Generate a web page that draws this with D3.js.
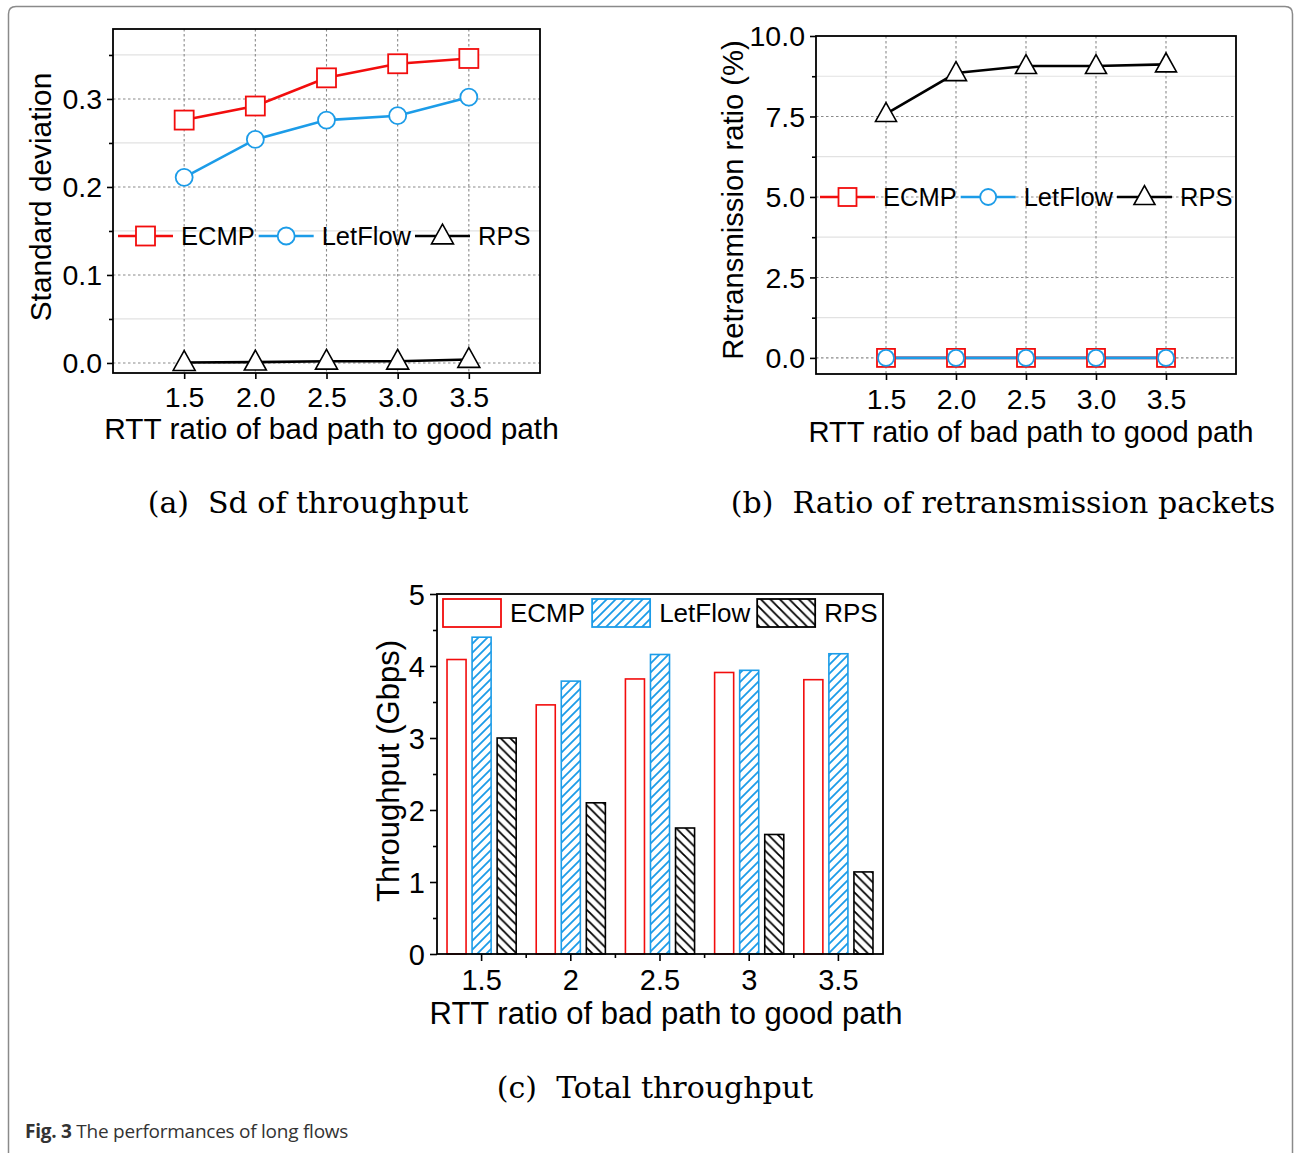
<!DOCTYPE html>
<html>
<head>
<meta charset="utf-8">
<script src="https://cdn.jsdelivr.net/npm/d3@7"></script>
<style>
  html, body { margin: 0; padding: 0; background: #fff; }
  svg { display: block; }
  text { font-family: "Liberation Sans", Arial, sans-serif; fill: #000; }
  text.cap { font-family: "DejaVu Serif", "Liberation Serif", serif; }
  text.figcap { font-family: "Open Sans", "Noto Sans", sans-serif; fill: #333; }
</style>
</head>
<body>
<svg id="fig" width="1294" height="1153"></svg>
<script>
// RTT ratio of the bad path to the good path (x values of panels a, b)
const ratios = [1.5, 2.0, 2.5, 3.0, 3.5];
const ratioTicks = [1.5, 2.0, 2.5, 3.0, 3.5];

// (a) standard deviation of throughput
const sdECMP    = [0.276, 0.292, 0.324, 0.340, 0.346];
const sdLetFlow = [0.211, 0.254, 0.276, 0.281, 0.302];
const sdRPS     = [0.0005, 0.001, 0.002, 0.002, 0.004];
const sdTicks   = [0.0, 0.1, 0.2, 0.3];
const sdMinor   = [0.05, 0.15, 0.25, 0.35];

// (b) ratio of retransmission packets (%)
const retxECMP    = [0, 0, 0, 0, 0];
const retxLetFlow = [0, 0, 0, 0, 0];
const retxRPS     = [7.58, 8.85, 9.07, 9.07, 9.12];
const retxTicks   = [0.0, 2.5, 5.0, 7.5, 10.0];
const retxMinor   = [1.25, 3.75, 6.25, 8.75];

// (c) total throughput (Gbps)
const tputCategories = ["1.5", "2", "2.5", "3", "3.5"];
const tputECMP    = [4.09, 3.46, 3.82, 3.91, 3.81];
const tputLetFlow = [4.40, 3.79, 4.16, 3.94, 4.17];
const tputRPS     = [3.00, 2.10, 1.75, 1.66, 1.14];
const tputTicks   = [0, 1, 2, 3, 4, 5];
const tputMinor   = [0.5, 1.5, 2.5, 3.5, 4.5];

const seriesNames = ["ECMP", "LetFlow", "RPS"];

const RED = "#f20d0d", BLUE = "#1c9ce8", BLACK = "#000";

const svg = d3.select("#fig");

// hatch fills for the bar panel
const defs = svg.append("defs");
defs.append("pattern").attr("id", "hatchBlue").attr("patternUnits", "userSpaceOnUse")
  .attr("width", 9).attr("height", 9)
  .call(p => {
    p.append("rect").attr("width", 9).attr("height", 9).attr("fill", "#fff");
    p.append("path").attr("d", "M-2,2 L2,-2 M0,9 L9,0 M7,11 L11,7")
      .attr("stroke", BLUE).attr("stroke-width", 1.8);
  });
defs.append("pattern").attr("id", "hatchBlack").attr("patternUnits", "userSpaceOnUse")
  .attr("width", 9.5).attr("height", 9.5)
  .call(p => {
    p.append("rect").attr("width", 9.5).attr("height", 9.5).attr("fill", "#fff");
    p.append("path").attr("d", "M-2,7.5 L2,11.5 M0,0 L9.5,9.5 M7.5,-2 L11.5,2")
      .attr("stroke", BLACK).attr("stroke-width", 1.8);
  });

// outer figure frame
svg.append("path")
  .attr("d", "M8.5,1160 L8.5,14 Q8.5,6.5 16,6.5 L1285,6.5 Q1292.5,6.5 1292.5,14 L1292.5,1160")
  .attr("fill", "none").attr("stroke", "#8a8a8a").attr("stroke-width", 1.5);

// marker shapes
function drawMarker(g, shape, x, y, color, size) {
  if (shape === "square") {
    g.append("rect").attr("x", x - size / 2).attr("y", y - size / 2)
      .attr("width", size).attr("height", size)
      .attr("fill", "#fff").attr("stroke", color).attr("stroke-width", 1.8);
  } else if (shape === "circle") {
    g.append("circle").attr("cx", x).attr("cy", y).attr("r", size / 2)
      .attr("fill", "#fff").attr("stroke", color).attr("stroke-width", 1.8);
  } else {
    const h = size * 0.9, w = size;
    g.append("path")
      .attr("d", `M${x},${y - h * 0.6} L${x + w / 2},${y + h * 0.4} L${x - w / 2},${y + h * 0.4} Z`)
      .attr("fill", "#fff").attr("stroke", color).attr("stroke-width", 1.6);
  }
}

// line-chart panel
function linePanel(opt) {
  const { box, xDomain, yDomain, yTicks, yMinor, yFormat, series, yTitle, yTitleX,
          xLabelY, xTitleY, legendY, legendX, mk, tickFont, titleFont } = opt;
  const g = svg.append("g");
  const x = d3.scaleLinear().domain(xDomain).range([box.l, box.r]);
  const y = d3.scaleLinear().domain(yDomain).range([box.b, box.t]);

  // minor grid (solid light) and major grid (dotted)
  g.selectAll(".gmin").data(yMinor).join("line")
    .attr("x1", box.l).attr("x2", box.r).attr("y1", d => y(d)).attr("y2", d => y(d))
    .attr("stroke", "#e2e2e2").attr("stroke-width", 1.2);
  g.selectAll(".gmaj").data(yTicks.filter(d => y(d) > box.t + 1)).join("line")
    .attr("x1", box.l).attr("x2", box.r).attr("y1", d => y(d)).attr("y2", d => y(d))
    .attr("stroke", "#8a8a8a").attr("stroke-width", 1.1).attr("stroke-dasharray", "2.5,2.5");
  g.selectAll(".gx").data(ratioTicks).join("line")
    .attr("x1", d => x(d)).attr("x2", d => x(d)).attr("y1", box.t).attr("y2", box.b)
    .attr("stroke", "#8a8a8a").attr("stroke-width", 1.1).attr("stroke-dasharray", "2.5,2.5");

  // axes (outward ticks)
  const yAxis = d3.axisLeft(y).tickValues(yTicks).tickFormat(yFormat).tickSize(6).tickPadding(5);
  const ya = g.append("g").attr("transform", `translate(${box.l},0)`).call(yAxis);
  const yMinorAxis = d3.axisLeft(y).tickValues(yMinor).tickFormat("").tickSize(4);
  g.append("g").attr("transform", `translate(${box.l},0)`).call(yMinorAxis)
    .call(a => a.select(".domain").remove());
  const xAxis = d3.axisBottom(x).tickValues(ratioTicks).tickFormat(d3.format(".1f")).tickSize(6).tickPadding(4);
  const xa = g.append("g").attr("transform", `translate(0,${box.b})`).call(xAxis);
  [ya, xa].forEach(a => {
    a.select(".domain").remove();
    a.selectAll("text").attr("font-size", tickFont).attr("fill", "#000");
  });
  g.selectAll(".tick line").attr("stroke", "#000").attr("stroke-width", 1.6);
  xa.selectAll("text").attr("dy", null).attr("dominant-baseline", "central")
    .attr("y", xLabelY - box.b);
  ya.selectAll("text").attr("dy", "0.35em");

  // frame
  g.append("rect").attr("x", box.l).attr("y", box.t)
    .attr("width", box.r - box.l).attr("height", box.b - box.t)
    .attr("fill", "none").attr("stroke", "#000").attr("stroke-width", 1.8);

  // series lines then markers
  series.forEach(s => {
    const pts = ratios.map((r, i) => [x(r), y(s.values[i])]);
    g.append("path").attr("d", d3.line()(pts))
      .attr("fill", "none").attr("stroke", s.color).attr("stroke-width", 2.6);
  });
  series.forEach(s => {
    ratios.forEach((r, i) => drawMarker(g, s.shape, x(r), y(s.values[i]), s.color, mk[s.shape]));
  });

  // legend
  let lx = legendX;
  series.forEach(s => {
    g.append("line").attr("x1", lx).attr("x2", lx + 55).attr("y1", legendY).attr("y2", legendY)
      .attr("stroke", s.color).attr("stroke-width", 2.6);
    drawMarker(g, s.shape, lx + 27.5, legendY, s.color, mk[s.shape]);
    const t = g.append("text").attr("x", lx + 63).attr("y", legendY)
      .attr("dominant-baseline", "central").attr("font-size", 25.5).text(s.name);
    lx = lx + 63 + t.node().getComputedTextLength() + 4;
  });

  // axis titles
  g.append("text").attr("x", (box.l + box.r) / 2 + opt.xTitleShift).attr("y", xTitleY)
    .attr("text-anchor", "middle").attr("dominant-baseline", "central")
    .attr("font-size", titleFont).text("RTT ratio of bad path to good path");
  g.append("text").attr("transform", `translate(${yTitleX},${opt.yTitleCY}) rotate(-90)`)
    .attr("text-anchor", "middle").attr("dominant-baseline", "central")
    .attr("font-size", titleFont).text(yTitle);
}

// (a) Sd of throughput
linePanel({
  box: { l: 113, r: 540, t: 29, b: 373 },
  xDomain: [1, 4], yDomain: [-0.0114, 0.3795],
  yTicks: sdTicks, yMinor: sdMinor, yFormat: d3.format(".1f"),
  series: [
    { name: seriesNames[0], values: sdECMP, color: RED, shape: "square" },
    { name: seriesNames[1], values: sdLetFlow, color: BLUE, shape: "circle" },
    { name: seriesNames[2], values: sdRPS, color: BLACK, shape: "triangle" }
  ],
  mk: { square: 19, circle: 17, triangle: 22 },
  yTitle: "Standard deviation", yTitleX: 40, yTitleCY: 197,
  xLabelY: 397, xTitleY: 428, xTitleShift: 5,
  legendY: 236, legendX: 118, tickFont: 28.5, titleFont: 29.8
});

// (b) Ratio of retransmission packets
linePanel({
  box: { l: 816, r: 1236, t: 36, b: 374 },
  xDomain: [1, 4], yDomain: [-0.5, 10],
  yTicks: retxTicks, yMinor: retxMinor, yFormat: d3.format(".1f"),
  series: [
    { name: seriesNames[0], values: retxECMP, color: RED, shape: "square" },
    { name: seriesNames[1], values: retxLetFlow, color: BLUE, shape: "circle" },
    { name: seriesNames[2], values: retxRPS, color: BLACK, shape: "triangle" }
  ],
  mk: { square: 18, circle: 16, triangle: 21 },
  yTitle: "Retransmission ratio (%)", yTitleX: 733, yTitleCY: 200,
  xLabelY: 399, xTitleY: 432, xTitleShift: 5,
  legendY: 197, legendX: 820, tickFont: 28.5, titleFont: 29.2
});

// (c) Total throughput, grouped bars
(function () {
  const box = { l: 437, r: 883, t: 594, b: 954 };
  const g = svg.append("g");
  const x = d3.scaleBand().domain(tputCategories).range([box.l, box.r]).paddingInner(0).paddingOuter(0);
  const inner = d3.scaleBand().domain(seriesNames).range([0, x.bandwidth()]).paddingInner(0.24).paddingOuter(0.4);
  const y = d3.scaleLinear().domain([0, 5]).range([box.b, box.t]);
  const fills = { ECMP: "#fff", LetFlow: "url(#hatchBlue)", RPS: "url(#hatchBlack)" };
  const strokes = { ECMP: RED, LetFlow: BLUE, RPS: BLACK };
  const vals = { ECMP: tputECMP, LetFlow: tputLetFlow, RPS: tputRPS };

  seriesNames.forEach(name => {
    g.selectAll(".b" + name).data(tputCategories).join("rect")
      .attr("x", c => x(c) + inner(name))
      .attr("y", (c, i) => y(vals[name][i]))
      .attr("width", inner.bandwidth())
      .attr("height", (c, i) => y(0) - y(vals[name][i]))
      .attr("fill", fills[name]).attr("stroke", strokes[name]).attr("stroke-width", 1.6);
  });

  const ya = g.append("g").attr("transform", `translate(${box.l},0)`)
    .call(d3.axisLeft(y).tickValues(tputTicks).tickFormat(d3.format("d")).tickSize(7).tickPadding(5));
  g.append("g").attr("transform", `translate(${box.l},0)`)
    .call(d3.axisLeft(y).tickValues(tputMinor).tickFormat("").tickSize(4))
    .call(a => a.select(".domain").remove());
  const xa = g.append("g").attr("transform", `translate(0,${box.b})`)
    .call(d3.axisBottom(x).tickSize(7).tickPadding(4));
  // boundary ticks between groups
  const edges = tputCategories.slice(1).map(c => x(c));
  g.selectAll(".edge").data(edges).join("line")
    .attr("x1", d => d).attr("x2", d => d).attr("y1", box.b).attr("y2", box.b + 4)
    .attr("stroke", "#000").attr("stroke-width", 1.6);
  [ya, xa].forEach(a => {
    a.select(".domain").remove();
    a.selectAll("text").attr("font-size", 29).attr("fill", "#000");
  });
  g.selectAll(".tick line").attr("stroke", "#000").attr("stroke-width", 1.6);
  xa.selectAll("text").attr("dy", null).attr("dominant-baseline", "central").attr("y", 980 - box.b);
  ya.selectAll("text").attr("dy", "0.35em");

  g.append("rect").attr("x", box.l).attr("y", box.t)
    .attr("width", box.r - box.l).attr("height", box.b - box.t)
    .attr("fill", "none").attr("stroke", "#000").attr("stroke-width", 1.8);

  // legend boxes
  let lx = 443;
  seriesNames.forEach(name => {
    g.append("rect").attr("x", lx).attr("y", 599).attr("width", 58).attr("height", 28)
      .attr("fill", fills[name]).attr("stroke", strokes[name]).attr("stroke-width", 1.8);
    const t = g.append("text").attr("x", lx + 67).attr("y", 613)
      .attr("dominant-baseline", "central").attr("font-size", 26).text(name);
    lx = lx + 67 + t.node().getComputedTextLength() + 7;
  });

  g.append("text").attr("x", 666).attr("y", 1013)
    .attr("text-anchor", "middle").attr("dominant-baseline", "central")
    .attr("font-size", 31).text("RTT ratio of bad path to good path");
  g.append("text").attr("transform", "translate(388,771) rotate(-90)")
    .attr("text-anchor", "middle").attr("dominant-baseline", "central")
    .attr("font-size", 31).text("Throughput (Gbps)");
})();

// sub-figure captions
[["(a)  Sd of throughput", 308, 502],
 ["(b)  Ratio of retransmission packets", 1003, 502],
 ["(c)  Total throughput", 655, 1087]].forEach(([t, cx, cy]) => {
  svg.append("text").attr("class", "cap").attr("x", cx).attr("y", cy)
    .attr("text-anchor", "middle").attr("dominant-baseline", "central")
    .attr("font-size", 30).style("white-space", "pre").text(t);
});

// figure caption
const fc = svg.append("text").attr("class", "figcap").attr("x", 25).attr("y", 1138)
  .attr("font-size", 19).style("letter-spacing", "-0.25px");
fc.append("tspan").attr("font-weight", "bold").text("Fig. 3");
fc.append("tspan").text(" The performances of long flows");
</script>
</body>
</html>
